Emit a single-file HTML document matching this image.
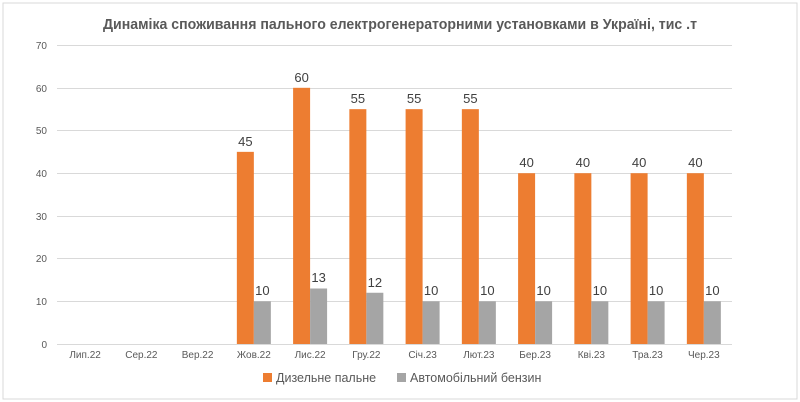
<!DOCTYPE html>
<html><head><meta charset="utf-8"><style>
body{margin:0;background:#fff}
svg{display:block;font-family:"Liberation Sans",sans-serif}
</style></head><body>
<svg width="800" height="402" viewBox="0 0 800 402" xmlns="http://www.w3.org/2000/svg">
<rect x="3" y="3" width="794" height="396" fill="#fff" stroke="#d9d9d9" stroke-width="1"/>
<text x="103" y="29" textLength="594" lengthAdjust="spacingAndGlyphs" font-size="15" font-weight="bold" fill="#595959">Динаміка споживання пального електрогенераторними установками в Україні, тис .т</text>
<g stroke="#d9d9d9" stroke-width="1">
<line x1="57" x2="732" y1="45.5" y2="45.5"/><line x1="57" x2="732" y1="88.5" y2="88.5"/>
<line x1="57" x2="732" y1="130.5" y2="130.5"/><line x1="57" x2="732" y1="173.5" y2="173.5"/>
<line x1="57" x2="732" y1="216.5" y2="216.5"/><line x1="57" x2="732" y1="258.5" y2="258.5"/>
<line x1="57" x2="732" y1="301.5" y2="301.5"/><line x1="57" x2="732" y1="344.5" y2="344.5"/>
</g>
<g font-size="10" fill="#595959" text-anchor="end">
<text x="47" y="49">70</text><text x="47" y="92">60</text><text x="47" y="134">50</text><text x="47" y="177">40</text>
<text x="47" y="220">30</text><text x="47" y="262">20</text><text x="47" y="305">10</text><text x="47" y="348">0</text>
</g>
<g fill="#ed7d31">
<rect x="236.85" y="151.85" width="17" height="192.15"/>
<rect x="293.1" y="87.8" width="17" height="256.2"/>
<rect x="349.35" y="109.15" width="17" height="234.85"/>
<rect x="405.6" y="109.15" width="17" height="234.85"/>
<rect x="461.85" y="109.15" width="17" height="234.85"/>
<rect x="518.1" y="173.2" width="17" height="170.8"/>
<rect x="574.35" y="173.2" width="17" height="170.8"/>
<rect x="630.6" y="173.2" width="17" height="170.8"/>
<rect x="686.85" y="173.2" width="17" height="170.8"/>
</g>
<g fill="#a5a5a5">
<rect x="253.85" y="301.3" width="17" height="42.7"/>
<rect x="310.1" y="288.5" width="17" height="55.5"/>
<rect x="366.35" y="292.76" width="17" height="51.24"/>
<rect x="422.6" y="301.3" width="17" height="42.7"/>
<rect x="478.85" y="301.3" width="17" height="42.7"/>
<rect x="535.1" y="301.3" width="17" height="42.7"/>
<rect x="591.35" y="301.3" width="17" height="42.7"/>
<rect x="647.6" y="301.3" width="17" height="42.7"/>
<rect x="703.85" y="301.3" width="17" height="42.7"/>
</g>
<g font-size="13" fill="#404040" text-anchor="middle">
<text x="245.35" y="146">45</text><text x="301.6" y="82">60</text><text x="357.85" y="103">55</text>
<text x="414.1" y="103">55</text><text x="470.35" y="103">55</text><text x="526.6" y="167">40</text>
<text x="582.85" y="167">40</text><text x="639.1" y="167">40</text><text x="695.35" y="167">40</text>
<text x="262.35" y="295">10</text><text x="318.6" y="282">13</text><text x="374.85" y="287">12</text>
<text x="431.1" y="295">10</text><text x="487.35" y="295">10</text><text x="543.6" y="295">10</text>
<text x="599.85" y="295">10</text><text x="656.1" y="295">10</text><text x="712.35" y="295">10</text>
</g>
<g font-size="10" fill="#595959" text-anchor="middle">
<text x="85.1" y="358">Лип.22</text><text x="141.35" y="358">Сер.22</text><text x="197.6" y="358">Вер.22</text>
<text x="253.85" y="358">Жов.22</text><text x="310.1" y="358">Лис.22</text><text x="366.35" y="358">Гру.22</text>
<text x="422.6" y="358">Січ.23</text><text x="478.85" y="358">Лют.23</text><text x="535.1" y="358">Бер.23</text>
<text x="591.35" y="358">Кві.23</text><text x="647.6" y="358">Тра.23</text><text x="703.85" y="358">Чер.23</text>
</g>
<rect x="263" y="373" width="9" height="9" fill="#ed7d31"/>
<text x="276" y="382" font-size="12.5" fill="#595959">Дизельне пальне</text>
<rect x="397" y="373" width="9" height="9" fill="#a5a5a5"/>
<text x="410" y="382" font-size="12.5" fill="#595959">Автомобільний бензин</text>
</svg>
</body></html>
